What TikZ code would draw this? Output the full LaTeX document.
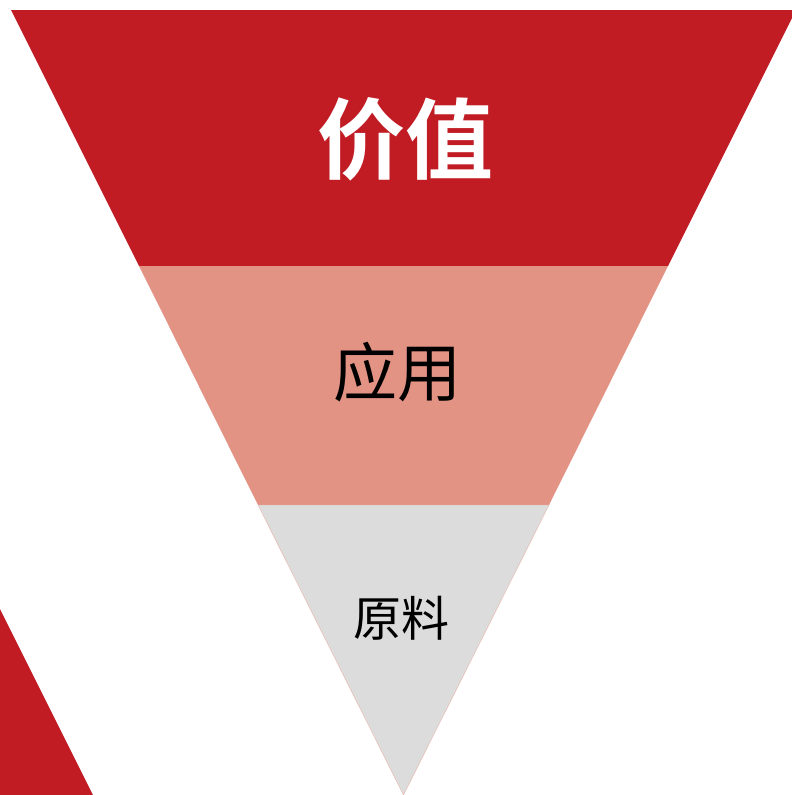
\documentclass[tikz,border=0pt]{standalone}
\usepackage{fontspec}
\newfontfamily\cjk{Noto Sans CJK SC}
\newfontfamily\cjkbold{Noto Sans CJK SC Bold}
\definecolor{topred}{HTML}{C11B24}
\definecolor{midpink}{HTML}{E39384}
\definecolor{lowgrey}{HTML}{DCDCDC}
\begin{document}
\begin{tikzpicture}[x=1pt,y=-1pt,
  lbl/.style={inner sep=0pt,anchor=center}]
\useasboundingbox (0,0) rectangle (792,795);
\clip (0,0) rectangle (792,795);
% top band
\fill[topred] (11,10) -- (796,10) -- (668,266) -- (139,266) -- cycle;
% middle band
\fill[midpink] (139,266) -- (668,266) -- (549,505) -- (258,505) -- cycle;
% bottom triangle
\filldraw[fill=lowgrey,draw=midpink!70,line width=0.4pt] (258,505) -- (549,505) -- (403.5,795) -- cycle;
% bottom-left corner shape
\fill[topred] (0,609) -- (93,795) -- (0,795) -- cycle;
% labels
\node[lbl,text=white] (value) at (405,139) {\cjkbold\fontsize{88}{88}\selectfont 价值};
\node[lbl,text=black] (app) at (397,372) {\cjk\fontsize{64}{64}\selectfont 应用};
\node[lbl,text=black] (raw) at (401,618) {\cjk\fontsize{48}{48}\selectfont 原料};
\end{tikzpicture}
\end{document}
